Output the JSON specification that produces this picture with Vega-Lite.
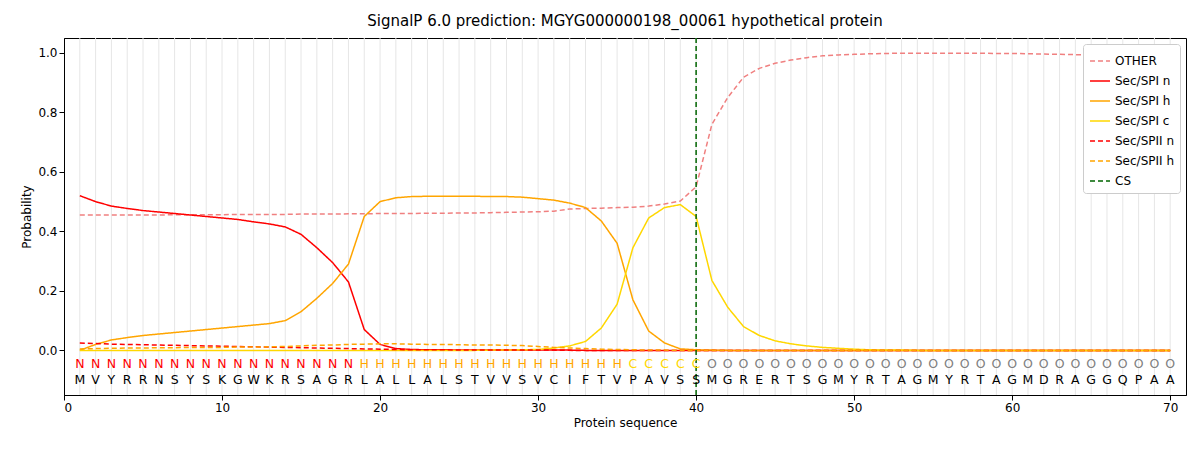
{
  "$schema": "https://vega.github.io/schema/vega-lite/v6.json",
  "width": 1200,
  "height": 450,
  "autosize": {"type": "fit", "contains": "padding"},
  "padding": {"left": 20, "right": 14, "top": 14, "bottom": 22},
  "title": {"text": "SignalP 6.0 prediction: MGYG000000198_00061 hypothetical protein", "font": "DejaVu Sans", "fontSize": 15, "fontWeight": "normal", "color": "#000", "offset": 8},
  "config": {
    "font": "DejaVu Sans",
    "view": {"stroke": "#000"},
    "axis": {"labelFont": "DejaVu Sans", "titleFont": "DejaVu Sans", "labelFontSize": 12, "titleFontSize": 12, "titleFontWeight": "normal", "labelColor": "#000", "titleColor": "#000", "domainColor": "#000", "tickColor": "#000", "grid": false}
  },
  "data": {"values": [
    {"pos":1,"aa":"M","lab":"N","OTHER":0.455,"Sec/SPI n":0.52,"Sec/SPI h":0.0,"Sec/SPI c":0.0,"Sec/SPII n":0.025,"Sec/SPII h":0.005},
    {"pos":2,"aa":"V","lab":"N","OTHER":0.455,"Sec/SPI n":0.50,"Sec/SPI h":0.02,"Sec/SPI c":0.0,"Sec/SPII n":0.023,"Sec/SPII h":0.006},
    {"pos":3,"aa":"Y","lab":"N","OTHER":0.455,"Sec/SPI n":0.485,"Sec/SPI h":0.035,"Sec/SPI c":0.0,"Sec/SPII n":0.021,"Sec/SPII h":0.007},
    {"pos":4,"aa":"R","lab":"N","OTHER":0.455,"Sec/SPI n":0.477,"Sec/SPI h":0.043,"Sec/SPI c":0.0,"Sec/SPII n":0.02,"Sec/SPII h":0.008},
    {"pos":5,"aa":"R","lab":"N","OTHER":0.455,"Sec/SPI n":0.47,"Sec/SPI h":0.05,"Sec/SPI c":0.0,"Sec/SPII n":0.019,"Sec/SPII h":0.008},
    {"pos":6,"aa":"N","lab":"N","OTHER":0.455,"Sec/SPI n":0.465,"Sec/SPI h":0.055,"Sec/SPI c":0.0,"Sec/SPII n":0.018,"Sec/SPII h":0.009},
    {"pos":7,"aa":"S","lab":"N","OTHER":0.456,"Sec/SPI n":0.46,"Sec/SPI h":0.06,"Sec/SPI c":0.0,"Sec/SPII n":0.017,"Sec/SPII h":0.009},
    {"pos":8,"aa":"Y","lab":"N","OTHER":0.456,"Sec/SPI n":0.455,"Sec/SPI h":0.065,"Sec/SPI c":0.0,"Sec/SPII n":0.016,"Sec/SPII h":0.01},
    {"pos":9,"aa":"S","lab":"N","OTHER":0.456,"Sec/SPI n":0.45,"Sec/SPI h":0.07,"Sec/SPI c":0.0,"Sec/SPII n":0.015,"Sec/SPII h":0.01},
    {"pos":10,"aa":"K","lab":"N","OTHER":0.456,"Sec/SPI n":0.445,"Sec/SPI h":0.075,"Sec/SPI c":0.0,"Sec/SPII n":0.014,"Sec/SPII h":0.01},
    {"pos":11,"aa":"G","lab":"N","OTHER":0.457,"Sec/SPI n":0.44,"Sec/SPI h":0.08,"Sec/SPI c":0.0,"Sec/SPII n":0.013,"Sec/SPII h":0.011},
    {"pos":12,"aa":"W","lab":"N","OTHER":0.457,"Sec/SPI n":0.432,"Sec/SPI h":0.085,"Sec/SPI c":0.0,"Sec/SPII n":0.012,"Sec/SPII h":0.011},
    {"pos":13,"aa":"K","lab":"N","OTHER":0.457,"Sec/SPI n":0.425,"Sec/SPI h":0.09,"Sec/SPI c":0.0,"Sec/SPII n":0.011,"Sec/SPII h":0.012},
    {"pos":14,"aa":"R","lab":"N","OTHER":0.457,"Sec/SPI n":0.415,"Sec/SPI h":0.1,"Sec/SPI c":0.0,"Sec/SPII n":0.01,"Sec/SPII h":0.013},
    {"pos":15,"aa":"S","lab":"N","OTHER":0.458,"Sec/SPI n":0.39,"Sec/SPI h":0.13,"Sec/SPI c":0.0,"Sec/SPII n":0.009,"Sec/SPII h":0.015},
    {"pos":16,"aa":"A","lab":"N","OTHER":0.458,"Sec/SPI n":0.345,"Sec/SPI h":0.175,"Sec/SPI c":0.0,"Sec/SPII n":0.008,"Sec/SPII h":0.017},
    {"pos":17,"aa":"G","lab":"N","OTHER":0.458,"Sec/SPI n":0.295,"Sec/SPI h":0.225,"Sec/SPI c":0.0,"Sec/SPII n":0.007,"Sec/SPII h":0.018},
    {"pos":18,"aa":"R","lab":"N","OTHER":0.459,"Sec/SPI n":0.23,"Sec/SPI h":0.29,"Sec/SPI c":0.0,"Sec/SPII n":0.006,"Sec/SPII h":0.02},
    {"pos":19,"aa":"L","lab":"H","OTHER":0.459,"Sec/SPI n":0.07,"Sec/SPI h":0.45,"Sec/SPI c":0.0,"Sec/SPII n":0.005,"Sec/SPII h":0.021},
    {"pos":20,"aa":"A","lab":"H","OTHER":0.46,"Sec/SPI n":0.02,"Sec/SPI h":0.5,"Sec/SPI c":0.0,"Sec/SPII n":0.004,"Sec/SPII h":0.022},
    {"pos":21,"aa":"L","lab":"H","OTHER":0.46,"Sec/SPI n":0.006,"Sec/SPI h":0.513,"Sec/SPI c":0.0,"Sec/SPII n":0.003,"Sec/SPII h":0.022},
    {"pos":22,"aa":"L","lab":"H","OTHER":0.46,"Sec/SPI n":0.003,"Sec/SPI h":0.517,"Sec/SPI c":0.0,"Sec/SPII n":0.002,"Sec/SPII h":0.021},
    {"pos":23,"aa":"A","lab":"H","OTHER":0.461,"Sec/SPI n":0.002,"Sec/SPI h":0.518,"Sec/SPI c":0.0,"Sec/SPII n":0.002,"Sec/SPII h":0.02},
    {"pos":24,"aa":"L","lab":"H","OTHER":0.461,"Sec/SPI n":0.002,"Sec/SPI h":0.518,"Sec/SPI c":0.0,"Sec/SPII n":0.002,"Sec/SPII h":0.02},
    {"pos":25,"aa":"S","lab":"H","OTHER":0.462,"Sec/SPI n":0.001,"Sec/SPI h":0.518,"Sec/SPI c":0.0,"Sec/SPII n":0.001,"Sec/SPII h":0.019},
    {"pos":26,"aa":"T","lab":"H","OTHER":0.462,"Sec/SPI n":0.001,"Sec/SPI h":0.518,"Sec/SPI c":0.0,"Sec/SPII n":0.001,"Sec/SPII h":0.018},
    {"pos":27,"aa":"V","lab":"H","OTHER":0.463,"Sec/SPI n":0.001,"Sec/SPI h":0.517,"Sec/SPI c":0.001,"Sec/SPII n":0.001,"Sec/SPII h":0.018},
    {"pos":28,"aa":"V","lab":"H","OTHER":0.464,"Sec/SPI n":0.001,"Sec/SPI h":0.517,"Sec/SPI c":0.001,"Sec/SPII n":0.001,"Sec/SPII h":0.017},
    {"pos":29,"aa":"S","lab":"H","OTHER":0.465,"Sec/SPI n":0.001,"Sec/SPI h":0.515,"Sec/SPI c":0.002,"Sec/SPII n":0.001,"Sec/SPII h":0.016},
    {"pos":30,"aa":"V","lab":"H","OTHER":0.466,"Sec/SPI n":0.001,"Sec/SPI h":0.51,"Sec/SPI c":0.003,"Sec/SPII n":0.001,"Sec/SPII h":0.013},
    {"pos":31,"aa":"C","lab":"H","OTHER":0.468,"Sec/SPI n":0.001,"Sec/SPI h":0.505,"Sec/SPI c":0.008,"Sec/SPII n":0.001,"Sec/SPII h":0.01},
    {"pos":32,"aa":"I","lab":"H","OTHER":0.475,"Sec/SPI n":0.001,"Sec/SPI h":0.495,"Sec/SPI c":0.015,"Sec/SPII n":0.0,"Sec/SPII h":0.008},
    {"pos":33,"aa":"F","lab":"H","OTHER":0.477,"Sec/SPI n":0.0,"Sec/SPI h":0.48,"Sec/SPI c":0.03,"Sec/SPII n":0.0,"Sec/SPII h":0.006},
    {"pos":34,"aa":"T","lab":"H","OTHER":0.478,"Sec/SPI n":0.0,"Sec/SPI h":0.435,"Sec/SPI c":0.075,"Sec/SPII n":0.0,"Sec/SPII h":0.004},
    {"pos":35,"aa":"V","lab":"H","OTHER":0.48,"Sec/SPI n":0.0,"Sec/SPI h":0.36,"Sec/SPI c":0.155,"Sec/SPII n":0.0,"Sec/SPII h":0.003},
    {"pos":36,"aa":"P","lab":"C","OTHER":0.481,"Sec/SPI n":0.0,"Sec/SPI h":0.17,"Sec/SPI c":0.345,"Sec/SPII n":0.0,"Sec/SPII h":0.002},
    {"pos":37,"aa":"A","lab":"C","OTHER":0.485,"Sec/SPI n":0.0,"Sec/SPI h":0.065,"Sec/SPI c":0.445,"Sec/SPII n":0.0,"Sec/SPII h":0.001},
    {"pos":38,"aa":"V","lab":"C","OTHER":0.492,"Sec/SPI n":0.0,"Sec/SPI h":0.025,"Sec/SPI c":0.48,"Sec/SPII n":0.0,"Sec/SPII h":0.001},
    {"pos":39,"aa":"S","lab":"C","OTHER":0.502,"Sec/SPI n":0.0,"Sec/SPI h":0.005,"Sec/SPI c":0.49,"Sec/SPII n":0.0,"Sec/SPII h":0.0},
    {"pos":40,"aa":"S","lab":"C","OTHER":0.55,"Sec/SPI n":0.0,"Sec/SPI h":0.002,"Sec/SPI c":0.45,"Sec/SPII n":0.0,"Sec/SPII h":0.0},
    {"pos":41,"aa":"M","lab":"O","OTHER":0.76,"Sec/SPI n":0.0,"Sec/SPI h":0.001,"Sec/SPI c":0.235,"Sec/SPII n":0.0,"Sec/SPII h":0.0},
    {"pos":42,"aa":"G","lab":"O","OTHER":0.85,"Sec/SPI n":0.0,"Sec/SPI h":0.0,"Sec/SPI c":0.145,"Sec/SPII n":0.0,"Sec/SPII h":0.0},
    {"pos":43,"aa":"R","lab":"O","OTHER":0.918,"Sec/SPI n":0.0,"Sec/SPI h":0.0,"Sec/SPI c":0.08,"Sec/SPII n":0.0,"Sec/SPII h":0.0},
    {"pos":44,"aa":"E","lab":"O","OTHER":0.948,"Sec/SPI n":0.0,"Sec/SPI h":0.0,"Sec/SPI c":0.05,"Sec/SPII n":0.0,"Sec/SPII h":0.0},
    {"pos":45,"aa":"R","lab":"O","OTHER":0.965,"Sec/SPI n":0.0,"Sec/SPI h":0.0,"Sec/SPI c":0.032,"Sec/SPII n":0.0,"Sec/SPII h":0.0},
    {"pos":46,"aa":"T","lab":"O","OTHER":0.976,"Sec/SPI n":0.0,"Sec/SPI h":0.0,"Sec/SPI c":0.022,"Sec/SPII n":0.0,"Sec/SPII h":0.0},
    {"pos":47,"aa":"S","lab":"O","OTHER":0.984,"Sec/SPI n":0.0,"Sec/SPI h":0.0,"Sec/SPI c":0.015,"Sec/SPII n":0.0,"Sec/SPII h":0.0},
    {"pos":48,"aa":"G","lab":"O","OTHER":0.99,"Sec/SPI n":0.0,"Sec/SPI h":0.0,"Sec/SPI c":0.01,"Sec/SPII n":0.0,"Sec/SPII h":0.0},
    {"pos":49,"aa":"M","lab":"O","OTHER":0.993,"Sec/SPI n":0.0,"Sec/SPI h":0.0,"Sec/SPI c":0.007,"Sec/SPII n":0.0,"Sec/SPII h":0.0},
    {"pos":50,"aa":"Y","lab":"O","OTHER":0.995,"Sec/SPI n":0.0,"Sec/SPI h":0.0,"Sec/SPI c":0.004,"Sec/SPII n":0.0,"Sec/SPII h":0.0},
    {"pos":51,"aa":"R","lab":"O","OTHER":0.997,"Sec/SPI n":0.0,"Sec/SPI h":0.0,"Sec/SPI c":0.002,"Sec/SPII n":0.0,"Sec/SPII h":0.0},
    {"pos":52,"aa":"T","lab":"O","OTHER":0.998,"Sec/SPI n":0.0,"Sec/SPI h":0.0,"Sec/SPI c":0.001,"Sec/SPII n":0.0,"Sec/SPII h":0.0},
    {"pos":53,"aa":"A","lab":"O","OTHER":0.999,"Sec/SPI n":0.0,"Sec/SPI h":0.0,"Sec/SPI c":0.001,"Sec/SPII n":0.0,"Sec/SPII h":0.0},
    {"pos":54,"aa":"G","lab":"O","OTHER":0.999,"Sec/SPI n":0.0,"Sec/SPI h":0.0,"Sec/SPI c":0.0,"Sec/SPII n":0.0,"Sec/SPII h":0.0},
    {"pos":55,"aa":"M","lab":"O","OTHER":0.999,"Sec/SPI n":0.0,"Sec/SPI h":0.0,"Sec/SPI c":0.0,"Sec/SPII n":0.0,"Sec/SPII h":0.0},
    {"pos":56,"aa":"Y","lab":"O","OTHER":0.999,"Sec/SPI n":0.0,"Sec/SPI h":0.0,"Sec/SPI c":0.0,"Sec/SPII n":0.0,"Sec/SPII h":0.0},
    {"pos":57,"aa":"R","lab":"O","OTHER":0.999,"Sec/SPI n":0.0,"Sec/SPI h":0.0,"Sec/SPI c":0.0,"Sec/SPII n":0.0,"Sec/SPII h":0.0},
    {"pos":58,"aa":"T","lab":"O","OTHER":0.999,"Sec/SPI n":0.0,"Sec/SPI h":0.0,"Sec/SPI c":0.0,"Sec/SPII n":0.0,"Sec/SPII h":0.0},
    {"pos":59,"aa":"A","lab":"O","OTHER":0.998,"Sec/SPI n":0.0,"Sec/SPI h":0.0,"Sec/SPI c":0.0,"Sec/SPII n":0.0,"Sec/SPII h":0.0},
    {"pos":60,"aa":"G","lab":"O","OTHER":0.998,"Sec/SPI n":0.0,"Sec/SPI h":0.0,"Sec/SPI c":0.0,"Sec/SPII n":0.0,"Sec/SPII h":0.0},
    {"pos":61,"aa":"M","lab":"O","OTHER":0.997,"Sec/SPI n":0.0,"Sec/SPI h":0.0,"Sec/SPI c":0.0,"Sec/SPII n":0.0,"Sec/SPII h":0.0},
    {"pos":62,"aa":"D","lab":"O","OTHER":0.996,"Sec/SPI n":0.0,"Sec/SPI h":0.0,"Sec/SPI c":0.0,"Sec/SPII n":0.0,"Sec/SPII h":0.0},
    {"pos":63,"aa":"R","lab":"O","OTHER":0.995,"Sec/SPI n":0.0,"Sec/SPI h":0.0,"Sec/SPI c":0.0,"Sec/SPII n":0.0,"Sec/SPII h":0.0},
    {"pos":64,"aa":"A","lab":"O","OTHER":0.994,"Sec/SPI n":0.0,"Sec/SPI h":0.0,"Sec/SPI c":0.0,"Sec/SPII n":0.0,"Sec/SPII h":0.0},
    {"pos":65,"aa":"G","lab":"O","OTHER":0.993,"Sec/SPI n":0.0,"Sec/SPI h":0.0,"Sec/SPI c":0.0,"Sec/SPII n":0.0,"Sec/SPII h":0.0},
    {"pos":66,"aa":"G","lab":"O","OTHER":0.993,"Sec/SPI n":0.0,"Sec/SPI h":0.0,"Sec/SPI c":0.0,"Sec/SPII n":0.0,"Sec/SPII h":0.0},
    {"pos":67,"aa":"Q","lab":"O","OTHER":0.993,"Sec/SPI n":0.0,"Sec/SPI h":0.0,"Sec/SPI c":0.0,"Sec/SPII n":0.0,"Sec/SPII h":0.0},
    {"pos":68,"aa":"P","lab":"O","OTHER":0.994,"Sec/SPI n":0.0,"Sec/SPI h":0.0,"Sec/SPI c":0.0,"Sec/SPII n":0.0,"Sec/SPII h":0.0},
    {"pos":69,"aa":"A","lab":"O","OTHER":0.995,"Sec/SPI n":0.0,"Sec/SPI h":0.0,"Sec/SPI c":0.0,"Sec/SPII n":0.0,"Sec/SPII h":0.0},
    {"pos":70,"aa":"A","lab":"O","OTHER":0.996,"Sec/SPI n":0.0,"Sec/SPI h":0.0,"Sec/SPI c":0.0,"Sec/SPII n":0.0,"Sec/SPII h":0.0}
  ]},
  "layer": [
    {
      "mark": {"type": "rule", "color": "#e6e6e6", "strokeWidth": 1},
      "encoding": {"x": {"field": "pos", "type": "quantitative"}}
    },
    {
      "transform": [{"fold": ["OTHER", "Sec/SPI n", "Sec/SPI h", "Sec/SPI c", "Sec/SPII n", "Sec/SPII h"], "as": ["series", "prob"]}],
      "mark": {"type": "line", "strokeWidth": 1.5},
      "encoding": {
        "x": {"field": "pos", "type": "quantitative", "scale": {"domain": [0, 71], "nice": false}, "axis": {"values": [0, 10, 20, 30, 40, 50, 60, 70], "title": "Protein sequence"}},
        "y": {"field": "prob", "type": "quantitative", "scale": {"domain": [-0.15, 1.05], "nice": false}, "axis": {"values": [0, 0.2, 0.4, 0.6, 0.8, 1.0], "format": ".1f", "title": "Probability"}},
        "color": {"field": "series", "type": "nominal", "title": null, "scale": {"domain": ["OTHER", "Sec/SPI n", "Sec/SPI h", "Sec/SPI c", "Sec/SPII n", "Sec/SPII h", "CS"], "range": ["#f08080", "#ff0000", "#ffa500", "#ffd700", "#ff0000", "#ffa500", "#006400"]},
          "legend": {"title": null, "orient": "top-right", "labelFontSize": 12, "symbolType": "stroke", "symbolSize": 400, "symbolStrokeWidth": 1.5, "fillColor": "#fff", "strokeColor": "#ccc", "padding": 6, "cornerRadius": 3, "offset": 6, "rowPadding": 3}},
        "strokeDash": {"field": "series", "type": "nominal", "title": null, "scale": {"domain": ["OTHER", "Sec/SPI n", "Sec/SPI h", "Sec/SPI c", "Sec/SPII n", "Sec/SPII h", "CS"], "range": [[5, 3], [1, 0], [1, 0], [1, 0], [5, 3], [5, 3], [5, 3]]}}
      }
    },
    {
      "data": {"values": [{"pos": 40, "series": "CS"}]},
      "mark": {"type": "rule", "strokeWidth": 1.5},
      "encoding": {
        "x": {"field": "pos", "type": "quantitative"},
        "color": {"field": "series", "type": "nominal", "title": null},
        "strokeDash": {"field": "series", "type": "nominal", "title": null}
      }
    },
    {
      "mark": {"type": "text", "fontSize": 12.5, "font": "DejaVu Sans"},
      "encoding": {
        "x": {"field": "pos", "type": "quantitative"},
        "y": {"datum": -0.047},
        "text": {"field": "lab"},
        "color": {"condition": [
          {"test": "datum.lab === 'N'", "value": "#ff0000"},
          {"test": "datum.lab === 'H'", "value": "#ffa500"},
          {"test": "datum.lab === 'C'", "value": "#ffd700"}
        ], "value": "#808080"}
      }
    },
    {
      "mark": {"type": "text", "fontSize": 12.5, "font": "DejaVu Sans", "color": "#000"},
      "encoding": {
        "x": {"field": "pos", "type": "quantitative"},
        "y": {"datum": -0.1},
        "text": {"field": "aa"}
      }
    }
  ]
}
